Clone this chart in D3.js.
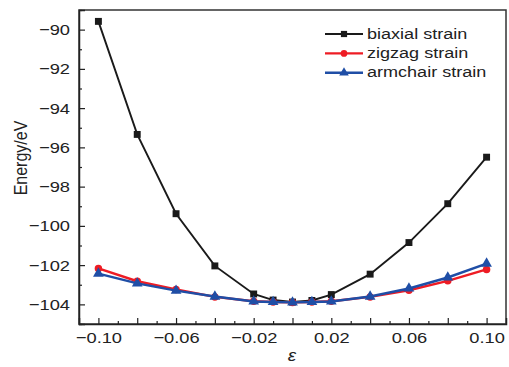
<!DOCTYPE html>
<html><head><meta charset="utf-8">
<script src="https://cdn.jsdelivr.net/npm/d3@7"></script>
<style>
html,body{margin:0;padding:0;background:#fff;}
svg{display:block;font-family:"Liberation Sans",Arial,sans-serif;}
</style></head>
<body>
<svg id="c" width="509" height="367"></svg>
<script>
const strain = [-0.10,-0.08,-0.06,-0.04,-0.02,-0.01,0,0.01,0.02,0.04,0.06,0.08,0.10];
const biaxial = [-89.58,-95.34,-99.38,-102.04,-103.47,-103.78,-103.88,-103.8,-103.5,-102.46,-100.85,-98.87,-96.5];
const zigzag = [-102.17,-102.82,-103.24,-103.62,-103.84,-103.88,-103.9,-103.88,-103.84,-103.62,-103.28,-102.8,-102.22];
const armchair = [-102.43,-102.93,-103.3,-103.6,-103.85,-103.88,-103.9,-103.88,-103.85,-103.6,-103.19,-102.63,-101.92];
const xTickLabels = [-0.10,-0.06,-0.02,0.02,0.06,0.10];
const yTickLabels = [-104,-102,-100,-98,-96,-94,-92,-90];
const seriesNames = ["biaxial strain","zigzag strain","armchair strain"];

const svg = d3.select("#c");
const L=79, R=506, T=10, B=324;
const x = d3.scaleLinear().domain([-0.11,0.11]).range([L,R]);
const y = d3.scaleLinear().domain([-105,-89]).range([B,T]);
const SX = 1.18; // horizontal text stretch seen in reference

const series = [
  {name:seriesNames[0], vals:biaxial, color:"#1a1a1a", sym:d3.symbolSquare, size:48, lw:1.9},
  {name:seriesNames[1], vals:zigzag, color:"#ee1c24", sym:d3.symbolCircle, size:44, lw:2.4},
  {name:seriesNames[2], vals:armchair, color:"#1f4ea6", sym:d3.symbolTriangle, size:50, lw:2.4}
];

// frame
svg.append("rect").attr("x",L).attr("y",T).attr("width",R-L).attr("height",B-T)
  .attr("fill","none").attr("stroke","#333").attr("stroke-width",1.5);

// x axis
const fmtX = d => (d<0?"\u2212":"") + Math.abs(d).toFixed(2);
const xMinor = d3.range(-10,11,1).map(i=>i/100).filter(v=>Math.round(v*100)%2!==0);
const xMajor = d3.range(-10,11,2).map(i=>i/100);
svg.append("g").attr("transform",`translate(0,${B})`)
  .call(d3.axisBottom(x).tickValues(xMinor).tickSize(-3).tickFormat(""))
  .call(g=>{g.select(".domain").remove(); g.selectAll("line").attr("stroke","#222").attr("stroke-width",1.2);});
svg.append("g").attr("transform",`translate(0,${B})`)
  .call(d3.axisBottom(x).tickValues(xMajor).tickSize(-6).tickFormat(d=> xTickLabels.some(v=>Math.abs(v-d)<1e-9)?fmtX(d):"").tickPadding(8))
  .call(g=>{g.select(".domain").attr("stroke","#222").attr("stroke-width",1.5);
    g.selectAll("line").attr("stroke","#222").attr("stroke-width",1.2);
    g.selectAll("text").attr("font-size",15.5).attr("fill","#222").attr("font-family","Liberation Sans, Arial")
      .attr("transform",`scale(${SX},1)`);});

// y axis
const fmtY = d => (d<0?"\u2212":"") + Math.abs(d);
const yMinor = d3.range(-105,-88,2);
svg.append("g").attr("transform",`translate(${L},0)`)
  .call(d3.axisLeft(y).tickValues(yMinor).tickSize(-3).tickFormat(""))
  .call(g=>{g.select(".domain").remove(); g.selectAll("line").attr("stroke","#222").attr("stroke-width",1.2);});
svg.append("g").attr("transform",`translate(${L},0)`)
  .call(d3.axisLeft(y).tickValues(yTickLabels).tickSize(-6).tickFormat(fmtY).tickPadding(9))
  .call(g=>{g.select(".domain").attr("stroke","#222").attr("stroke-width",1.5);
    g.selectAll("line").attr("stroke","#222").attr("stroke-width",1.2);
    g.selectAll("text").attr("font-size",15.5).attr("fill","#222").attr("font-family","Liberation Sans, Arial")
      .attr("x",-9/SX).attr("transform",`scale(${SX},1)`);});

// axis titles
svg.append("text").attr("transform",`translate(292,361) scale(${SX},1)`).attr("text-anchor","middle")
  .attr("font-size",16).attr("font-style","italic").attr("fill","#222").text("ε");
svg.append("text").attr("transform",`translate(27,158) rotate(-90) scale(1,${SX})`).attr("text-anchor","middle")
  .attr("font-size",16).attr("fill","#222").text("Energy/eV");

// series
const line = d3.line().x((d,i)=>x(strain[i])).y(d=>y(d));
series.forEach(s=>{
  svg.append("path").datum(s.vals).attr("d",line).attr("fill","none")
    .attr("stroke",s.color).attr("stroke-width",s.lw);
  svg.append("g").selectAll("path").data(s.vals).join("path")
    .attr("transform",(d,i)=>`translate(${x(strain[i])},${y(d)})`)
    .attr("d",d3.symbol().type(s.sym).size(s.size)).attr("fill",s.color);
});

// legend
const lg = svg.append("g");
series.forEach((s,i)=>{
  const yy = 34 + i*19.4;
  lg.append("line").attr("x1",325).attr("x2",363).attr("y1",yy).attr("y2",yy)
    .attr("stroke",s.color).attr("stroke-width",s.lw);
  lg.append("path").attr("transform",`translate(344,${yy})`)
    .attr("d",d3.symbol().type(s.sym).size(s.size*0.8)).attr("fill",s.color);
  lg.append("text").attr("transform",`translate(367,${yy+4.5}) scale(${SX},1)`)
    .attr("font-size",15.3).attr("fill","#222").text(s.name);
});
</script>
</body></html>
